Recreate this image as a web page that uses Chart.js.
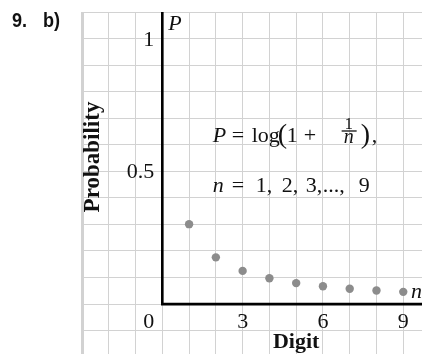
<!DOCTYPE html>
<html>
<head>
<meta charset="utf-8">
<script src="https://cdn.jsdelivr.net/npm/chart.js@4/dist/chart.umd.min.js"></script>
<style>
  html, body { margin:0; padding:0; background:#fff; }
  #wrap { width:422px; height:354px; position:relative; }
</style>
</head>
<body>
<div id="wrap"><canvas id="chart"></canvas></div>
<script>
// Benford digit probabilities, P = log(1 + 1/n)
const digits = [1, 2, 3, 4, 5, 6, 7, 8, 9];
const probs = [0.301, 0.176, 0.125, 0.097, 0.079, 0.067, 0.058, 0.051, 0.046];

// labelled ticks
const xTickLabels = [3, 6, 9];
const yTickLabels = [0.5, 1];

// grid lines (one unit across, 0.1 up)
const xGrid = [-3, -2, -1, 0, 1, 2, 3, 4, 5, 6, 7, 8, 9];
const yGrid = [-0.1, 0, 0.1, 0.2, 0.3, 0.4, 0.5, 0.6, 0.7, 0.8, 0.9, 1, 1.1];

const SERIF = '"Liberation Serif", "Times New Roman", serif';
const GRID = "#d2d2d2";

function txt(c, s, x, y, font, align){
  c.font = font;
  c.textAlign = align || "left";
  c.textBaseline = "alphabetic";
  c.fillText(s, x, y);
}

// condensed bold label, squeezed horizontally
function narrow(c, s, x, y){
  c.save();
  c.translate(x, y);
  c.scale(0.86, 1);
  txt(c, s, 0, 0, 'bold 21px "Liberation Sans", Arial, sans-serif');
  c.restore();
}

const axesPlugin = {
  id:"axesAndText",
  beforeDatasetsDraw(chart){
    const c = chart.ctx, xs = chart.scales.x, ys = chart.scales.y;
    const x0 = xs.getPixelForValue(0), y0 = ys.getPixelForValue(0);
    const area = chart.chartArea;
    c.save();
    c.strokeStyle = "#000";
    c.lineWidth = 2.6;
    c.beginPath();
    c.moveTo(x0, area.top);
    c.lineTo(x0, y0);
    c.lineTo(area.right, y0);
    c.stroke();
    c.restore();
  },
  afterDraw(chart){
    const c = chart.ctx, xs = chart.scales.x, ys = chart.scales.y;
    const x0 = xs.getPixelForValue(0), y0 = ys.getPixelForValue(0);
    c.save();
    c.fillStyle = "#111";

    // problem number
    narrow(c, "9.", 12, 27);
    narrow(c, "b)", 43, 27);

    // tick labels
    const tf = "22px " + SERIF;
    yTickLabels.forEach(v => {
      txt(c, String(v), x0 - 8, ys.getPixelForValue(v) + 7, tf, "right");
    });
    txt(c, "0", x0 - 8, y0 + 24, tf, "right");
    xTickLabels.forEach(v => {
      txt(c, String(v), xs.getPixelForValue(v), y0 + 24, tf, "center");
    });

    // axis names
    txt(c, "P", x0 + 6, ys.getPixelForValue(1.1) + 18, "italic 22px " + SERIF);
    txt(c, "n", chart.chartArea.right - 11, y0 - 6, "italic 22px " + SERIF);
    txt(c, "Digit", xs.getPixelForValue(5), y0 + 44, "bold 22px " + SERIF, "center");
    c.save();
    c.translate(99, 157);
    c.rotate(-Math.PI / 2);
    txt(c, "Probability", 0, 0, "bold 23px " + SERIF, "center");
    c.restore();

    // formula
    const ax = xs.getPixelForValue(1.88);
    const b1 = ys.getPixelForValue(0.611);
    const b2 = ys.getPixelForValue(0.423);
    const f = "22px " + SERIF, fi = "italic 22px " + SERIF;
    txt(c, "P", ax, b1, fi);
    txt(c, "=", ax + 19, b1, f);
    txt(c, "log", ax + 39, b1, f);
    txt(c, "(", ax + 65, b1 + 1, "28px " + SERIF);
    txt(c, "1", ax + 74, b1, f);
    txt(c, "+", ax + 91, b1, f);
    txt(c, "1", ax + 136, b1 - 13, "17px " + SERIF, "center");
    c.fillRect(ax + 129, b1 - 11.5, 15, 1.3);
    txt(c, "n", ax + 136, b1 + 1.5, "italic 20px " + SERIF, "center");
    txt(c, ")", ax + 148, b1 + 1, "28px " + SERIF);
    txt(c, ",", ax + 159, b1, f);

    txt(c, "n", ax, b2, fi);
    txt(c, "=", ax + 19, b2, f);
    txt(c, "1,", ax + 43, b2, f);
    txt(c, "2,", ax + 69, b2, f);
    txt(c, "3,", ax + 93, b2, f);
    txt(c, "...,", ax + 110, b2, f);
    txt(c, "9", ax + 146, b2, f);
    c.restore();
  }
};

const ctx = document.getElementById("chart").getContext("2d");

new Chart(ctx, {
  type:"scatter",
  data:{
    datasets:[{
      label:"P",
      data: digits.map((d, i) => ({ x:d, y:probs[i] })),
      pointRadius:4.2,
      pointHoverRadius:4.2,
      pointBackgroundColor:"#8c8c8c",
      pointBorderWidth:0
    }]
  },
  options:{
    responsive:true,
    maintainAspectRatio:false,
    animation:false,
    events:[],
    layout:{ autoPadding:false, padding:{ left:82, top:12, right:0, bottom:0 } },
    plugins:{ legend:{ display:false }, tooltip:{ enabled:false } },
    scales:{
      x:{
        type:"linear",
        min:-3, max:9.7,
        afterBuildTicks(s){ s.ticks = xGrid.map(v => ({ value:v })); },
        ticks:{ display:false },
        border:{ display:false },
        grid:{
          color:GRID,
          drawTicks:false,
          lineWidth:c => (c.tick && c.tick.value === -3 ? 3 : 1)
        }
      },
      y:{
        type:"linear",
        min:-0.188, max:1.1,
        afterBuildTicks(s){ s.ticks = yGrid.map(v => ({ value:v })); },
        ticks:{ display:false },
        border:{ display:false },
        grid:{ color:GRID, drawTicks:false, lineWidth:1 }
      }
    }
  },
  plugins:[axesPlugin]
});
</script>
</body>
</html>
